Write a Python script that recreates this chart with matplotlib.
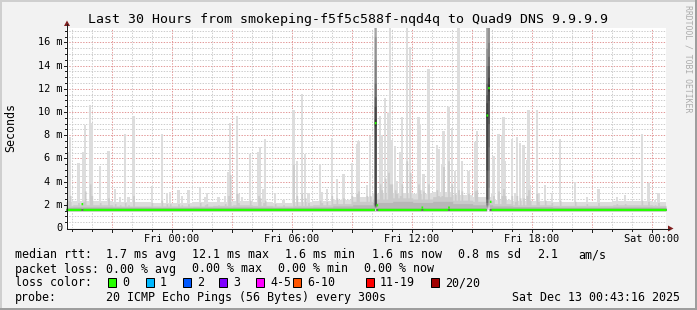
import numpy as np
import matplotlib
matplotlib.use("Agg")
import matplotlib.pyplot as plt
from matplotlib.patches import Rectangle, Polygon
from matplotlib.lines import Line2D
import matplotlib.transforms as mtrans

W, H = 697, 310
plt.rcParams['font.family'] = ['DejaVu Sans Mono', 'DejaVu Sans']
plt.rcParams['lines.scale_dashes'] = False

# ------------------------------------------------------------------ data
TITLE = "Last 30 Hours from smokeping-f5f5c588f-nqd4q to Quad9 DNS 9.9.9.9"
Y_LABEL = "Seconds"
WATERMARK = "RRDTOOL / TOBI OETIKER"

# time axis: hours relative to Fri 00:00 ; graph = Thu 18:43:16 .. Sat 00:43:16
T_START = -5.2789
T_SPAN = 30.0
STEPS_PER_HOUR = 12          # 300 s probe step
N_STEPS = 360
Y_MAX = 17.24                # ms

XTICK_H = [0, 6, 12, 18, 24]
XTICK_LABELS = ["Fri 00:00", "Fri 06:00", "Fri 12:00", "Fri 18:00", "Sat 00:00"]
YTICK_V = [0, 2, 4, 6, 8, 10, 12, 14, 16]
YTICK_LABELS = ["0", "2 m", "4 m", "6 m", "8 m", "10 m", "12 m", "14 m", "16 m"]

# sorted 20-ping distribution of a quiet step (ms); top three replaced hourly
QUIET_PINGS = [1.42, 1.47, 1.50, 1.52, 1.54, 1.55, 1.56, 1.57, 1.58, 1.59,
               1.60, 1.61, 1.62, 1.63, 1.65, 1.68, 1.72, 1.80, 1.92, 2.10]

# hourly background (hours -6 .. 24): highest, 2nd and 3rd highest ping
BG_HOUR0 = -6
BG_TOP = [2.2, 2.3, 2.3, 2.2, 2.2, 2.1,
          2.1, 2.2, 2.2, 2.3, 2.2, 2.1, 2.2, 2.3,
          2.4, 2.6, 2.9, 3.0, 2.9, 3.1, 2.8, 2.6, 2.4,
          2.3, 2.3, 2.2, 2.2, 2.2, 2.3, 2.3, 2.2]
BG_SECOND = [1.95, 2.0, 2.0, 1.9, 1.9, 1.9,
             1.9, 1.9, 1.95, 2.0, 1.95, 1.9, 1.95, 2.0,
             2.1, 2.3, 2.5, 2.6, 2.5, 2.7, 2.4, 2.3, 2.1,
             2.0, 2.0, 1.95, 1.95, 1.95, 2.0, 2.0, 1.95]
BG_THIRD = [1.80, 1.82, 1.82, 1.80, 1.80, 1.78,
            1.78, 1.80, 1.80, 1.82, 1.80, 1.78, 1.80, 1.82,
            1.90, 2.0, 2.2, 2.3, 2.2, 2.3, 2.1, 2.0, 1.9,
            1.85, 1.85, 1.80, 1.80, 1.80, 1.82, 1.82, 1.80]

# single-step spikes: time (h from Fri 00:00), highest ping, 2nd highest ping (ms)
SPIKE_H = [-5.15, -5.03, -4.69, -4.42, -4.29, -4.08, -3.98, -3.53, -3.15, -2.78,
           -2.59, -2.33, -2.13, -1.91, -1.00, -0.48, -0.25, -0.05, 0.33, 0.55,
           0.83, 1.45, 1.69, 1.80, 2.32, 2.72, 2.83, 2.94, 3.23, 3.35,
           3.50, 3.92, 4.35, 4.45, 4.57, 4.68, 5.19, 5.58, 6.12, 6.25,
           6.50, 6.72, 6.82, 7.42, 7.50, 7.73, 7.98, 8.24, 8.60, 9.00,
           9.23, 9.33, 9.78, 9.97, 10.45, 10.55, 10.72, 10.83, 10.92, 11.05,
           11.15, 11.27, 11.42, 11.53, 11.77, 11.89, 12.35, 12.45, 12.58, 12.85,
           13.25, 13.35, 13.48, 13.60, 13.81, 14.04, 14.17, 14.35, 14.50, 14.83,
           15.18, 15.30, 16.00, 16.10, 16.35, 16.48, 16.56, 16.70, 16.98, 17.15,
           17.30, 17.43, 17.60, 17.73, 17.85, 17.96, 18.23, 18.35, 18.72, 19.04,
           19.47, 20.22, 20.75, 21.31, 22.29, 22.70, 23.48, 23.88, 24.20, 24.36]
SPIKE_MAX = [6.5, 7.8, 5.6, 6.5, 8.8, 10.6, 9.0, 5.3, 6.6, 3.3,
             2.6, 8.1, 2.6, 9.6, 3.6, 8.1, 3.0, 3.1, 3.2, 2.7,
             3.2, 3.5, 2.6, 3.0, 2.6, 2.7, 4.8, 9.0, 9.6, 2.9,
             2.6, 6.3, 6.5, 6.9, 3.3, 7.6, 3.0, 2.4, 10.1, 5.7,
             11.5, 6.3, 3.0, 5.4, 3.1, 3.35, 7.7, 4.2, 4.6, 5.6,
             7.2, 7.5, 3.7, 7.9, 9.6, 8.0, 11.2, 9.9, 17.5, 7.5,
             7.0, 4.0, 6.5, 9.5, 17.5, 15.6, 9.5, 8.9, 4.6, 13.7,
             7.1, 6.75, 5.5, 8.3, 10.4, 8.6, 4.9, 17.5, 5.7, 4.9,
             7.4, 8.3, 2.9, 6.2, 8.1, 8.0, 9.5, 5.7, 7.6, 3.0,
             7.8, 7.3, 7.1, 5.8, 10.1, 3.7, 10.1, 3.0, 3.7, 3.0,
             7.6, 3.9, 2.6, 3.3, 2.6, 2.8, 8.1, 3.8, 2.4, 3.0]
SPIKE_2ND = [2.4, 2.8, 2.2, 2.3, 3.2, 3.8, 2.8, 2.2, 2.6, 2.1,
             2.0, 2.2, 2.0, 2.8, 2.2, 2.4, 2.1, 2.1, 2.1, 2.0,
             2.1, 2.2, 2.0, 2.1, 2.0, 2.1, 2.8, 4.6, 3.0, 2.2,
             2.0, 2.4, 2.8, 2.6, 2.2, 2.4, 2.1, 2.0, 5.5, 2.8,
             3.0, 2.6, 2.2, 2.4, 2.2, 2.3, 2.8, 2.6, 2.6, 2.8,
             3.0, 3.2, 2.8, 2.8, 3.8, 3.3, 4.3, 4.8, 3.8, 3.8,
             3.3, 3.0, 2.8, 3.8, 5.8, 4.8, 3.8, 3.3, 3.2, 3.8,
             3.3, 2.8, 2.8, 5.3, 5.8, 3.8, 3.0, 3.3, 3.2, 3.0,
             3.2, 3.3, 2.4, 2.8, 3.2, 2.8, 3.4, 2.8, 2.8, 2.3,
             2.8, 2.6, 2.6, 2.8, 3.3, 2.4, 3.0, 2.3, 2.4, 2.2,
             2.4, 2.3, 2.1, 2.2, 2.1, 2.1, 2.4, 2.3, 2.0, 2.2]

# three high-latency steps with full ping distributions (ms) and their medians
EVENT_H = [10.20, 15.73, 15.86]
EVENT_PINGS = [
    [1.5, 1.6, 1.7, 1.75, 1.8, 1.85, 1.9, 1.95, 2.0, 8.8,
     9.4, 10.5, 11.3, 12.5, 14.5, 16.5, 19.0, 22.0, 26.0, 30.0],
    [1.5, 1.6, 1.7, 1.8, 1.9, 2.0, 2.2, 2.5, 5.0, 9.5,
     10.0, 10.8, 11.5, 12.5, 14.0, 15.5, 17.5, 20.0, 24.0, 30.0],
    [1.6, 1.8, 2.0, 2.5, 3.5, 5.0, 7.0, 9.0, 11.0, 11.8,
     12.4, 13.0, 14.0, 14.8, 16.0, 18.0, 20.0, 22.0, 25.0, 30.0],
]
EVENT_MEDIAN = [9.08, 9.74, 12.1]

# median rtt (ms): flat level with a few raised steps
MEDIAN_LEVEL = 1.6
MEDIAN_BUMP_H = [-4.47, 10.30, 15.97, 12.55, 13.85]
MEDIAN_BUMP_V = [2.1, 2.0, 2.3, 1.8, 1.8]

LEGEND_ROW1 = ["median rtt:", "1.7 ms avg", "12.1 ms max", "1.6 ms min",
               "1.6 ms now", "0.8 ms sd", "2.1", "am/s"]
LEGEND_ROW2 = ["packet loss:", "0.00 % avg", "0.00 % max", "0.00 % min", "0.00 % now"]
LOSS_LABELS = ["0", "1", "2", "3", "4-5", "6-10", "11-19", "20/20"]
LOSS_COLORS = ["#26ff00", "#00b8ff", "#0059ff", "#7e00ff",
               "#ff00ff", "#ff5500", "#ff0000", "#a00000"]
PROBE_TEXT = "20 ICMP Echo Pings (56 Bytes) every 300s"
DATE_TEXT = "Sat Dec 13 00:43:16 2025"

# smokeping shades, outermost pair first
SMOKE_COLORS = ["#dddddd", "#cacaca", "#b7b7b7", "#a4a4a4", "#919191",
                "#7e7e7e", "#6b6b6b", "#585858", "#454545", "#323232"]

# ------------------------------------------------------------------ build steps
def step_index(h):
    return int(np.floor((h - T_START) * STEPS_PER_HOUR))

P = np.tile(np.array(QUIET_PINGS)[:, None], (1, N_STEPS))
t_left = T_START + np.arange(N_STEPS) / STEPS_PER_HOUR
hb = (np.floor(t_left).astype(int) - BG_HOUR0)
P[19] = np.array(BG_TOP)[hb]
P[18] = np.array(BG_SECOND)[hb]
P[17] = np.array(BG_THIRD)[hb]
for h, mx, sc in zip(SPIKE_H, SPIKE_MAX, SPIKE_2ND):
    i = step_index(h)
    if 0 <= i < N_STEPS:
        P[19, i] = max(P[19, i], mx)
        P[18, i] = max(P[18, i], sc)
med = np.full(N_STEPS, MEDIAN_LEVEL)
for h, v in zip(MEDIAN_BUMP_H, MEDIAN_BUMP_V):
    med[step_index(h)] = v
for h, pl, m in zip(EVENT_H, EVENT_PINGS, EVENT_MEDIAN):
    i = step_index(h)
    P[:, i] = pl
    med[i] = m
P.sort(axis=0)

# ------------------------------------------------------------------ figure
fig = plt.figure(figsize=(W / 100, H / 100), dpi=100)
fig.patch.set_facecolor("#f2f2f2")

def fx(x):
    return x / W

def fy(y):
    return 1 - y / H

PX = 0.72  # one pixel in points

AX_L, AX_R, AX_T, AX_B = 66, 666, 28, 228
ax = fig.add_axes([fx(AX_L), fy(AX_B), (AX_R - AX_L) / W, (AX_B - AX_T) / H])
ax.set_xlim(T_START, T_START + T_SPAN)
ax.set_ylim(0, Y_MAX)
ax.set_facecolor("white")
for s in ax.spines.values():
    s.set_visible(False)
ax.tick_params(left=False, bottom=False, labelleft=False, labelbottom=False)

# grid (dotted, 1px on / 1px off), drawn under the smoke
dots = (0, (1.0, 1.0))
for v in np.arange(0.5, Y_MAX, 0.5):
    major = abs(v / 2 - round(v / 2)) < 1e-6
    ax.axhline(v, color="#e39a9a" if major else "#cdcdcd", lw=PX,
               linestyle=dots, zorder=1)
for hh in range(int(np.ceil(T_START)), int(T_START + T_SPAN) + 1):
    major = hh % 3 == 0
    ax.axvline(hh, color="#e39a9a" if major else "#cdcdcd", lw=PX,
               linestyle=dots, zorder=1)

# smoke
tx = T_START + np.arange(N_STEPS + 1) / STEPS_PER_HOUR
for k in range(10):
    lo = np.append(P[k], P[k][-1])
    hi = np.append(P[19 - k], P[19 - k][-1])
    ax.fill_between(tx, lo, hi, step="post", color=SMOKE_COLORS[k], lw=0,
                    antialiased=False, zorder=2)

# median band (smokeping draws it as a thin stacked area)
sw = Y_MAX / 200 * 1.15
me = np.append(med, med[-1])
ax.fill_between(tx, me - sw, me + sw, step="post", color=LOSS_COLORS[0], lw=0,
                antialiased=False, zorder=4)

# axes lines, ticks and arrows (pixel layout)
axis_col = "#1f1f1f"
arrow_col = "#801f1f"
fig.add_artist(Line2D([fx(67), fx(67)], [fy(228.5), fy(24)], color=axis_col, lw=PX))
fig.add_artist(Line2D([fx(66.5), fx(669)], [fy(228.5), fy(228.5)], color=axis_col, lw=PX))
fig.add_artist(Polygon([[fx(64), fy(26)], [fx(70), fy(26)], [fx(67), fy(20.5)]],
                       closed=True, color=arrow_col, lw=0))
fig.add_artist(Polygon([[fx(668), fy(225.5)], [fx(668), fy(231.5)], [fx(673.5), fy(228.5)]],
                       closed=True, color=arrow_col, lw=0))

tr_x = mtrans.blended_transform_factory(ax.transData, fig.transFigure)
tr_y = mtrans.blended_transform_factory(fig.transFigure, ax.transData)
for hh in range(int(np.ceil(T_START)), int(T_START + T_SPAN) + 1):
    L = 3 if hh % 3 == 0 else 2
    ax.add_artist(Line2D([hh, hh], [fy(228.5), fy(228.5 + L)], transform=tr_x,
                         color=axis_col, lw=PX, clip_on=False))
for v in np.arange(0.5, Y_MAX, 0.5):
    L = 3 if abs(v / 2 - round(v / 2)) < 1e-6 else 2
    ax.add_artist(Line2D([fx(67 - L), fx(67)], [v, v], transform=tr_y,
                         color=axis_col, lw=PX, clip_on=False))

# tick labels
for hh, lab in zip(XTICK_H, XTICK_LABELS):
    ax.text(hh, fy(238.6), lab, transform=tr_x, ha="center", va="center",
            fontsize=7.4, color="black")
for v, lab in zip(YTICK_V, YTICK_LABELS):
    ax.text(fx(62), v, lab, transform=tr_y, ha="right", va="center",
            fontsize=7.4, color="black")

# title, unit, watermark
fig.text(fx(347.5), fy(20), TITLE, ha="center", va="center", fontsize=9.5)
fig.text(fx(10.5), fy(128), Y_LABEL, ha="center", va="center", rotation=90,
         fontsize=8.4)
fig.text(fx(688), fy(5), WATERMARK, ha="center", va="top", rotation=270,
         fontsize=5.9, color="#acacac")

# legend
LFS = 8.4
row_y = [fy(254.8), fy(269), fy(283), fy(297.5)]
row1_x = [16, 107.3, 193.3, 286, 372.3, 458.3, 537.7, 579.3]
for x, s in zip(row1_x, LEGEND_ROW1):
    fig.text(fx(x - 0.8), row_y[0], s, ha="left", va="center", fontsize=LFS)
row2_x = [16, 107.3, 193.3, 279.3, 365]
for x, s in zip(row2_x, LEGEND_ROW2):
    fig.text(fx(x - 0.8), row_y[1], s, ha="left", va="center", fontsize=LFS)
fig.text(fx(15.2), row_y[2], "loss color:", ha="left", va="center", fontsize=LFS)
sq_x = [108.3, 145.7, 182.7, 219.3, 256, 292.7, 365.7, 430.7]
for sx, lab, col in zip(sq_x, LOSS_LABELS, LOSS_COLORS):
    fig.add_artist(Rectangle((fx(sx), fy(286.5)), 8 / W, 9 / H, facecolor=col,
                             edgecolor="black", lw=PX))
    fig.text(fx(sx + 14.2), row_y[2], lab, ha="left", va="center", fontsize=LFS)
fig.text(fx(15.2), row_y[3], "probe:", ha="left", va="center", fontsize=LFS)
fig.text(fx(106.5), row_y[3], PROBE_TEXT, ha="left", va="center", fontsize=LFS)
fig.text(fx(512.5), row_y[3], DATE_TEXT, ha="left", va="center", fontsize=LFS)

# frame shading
fig.add_artist(Rectangle((0, fy(2)), 1, 2 / H, facecolor="#cfcfcf", lw=0))
fig.add_artist(Rectangle((0, 0), 2 / W, 1, facecolor="#cfcfcf", lw=0))
fig.add_artist(Rectangle((0, 0), 1, 2 / H, facecolor="#9e9e9e", lw=0))
fig.add_artist(Rectangle((fx(695), 0), 2 / W, 1, facecolor="#9e9e9e", lw=0))

fig.savefig("out.png", dpi=100, facecolor=fig.get_facecolor())
